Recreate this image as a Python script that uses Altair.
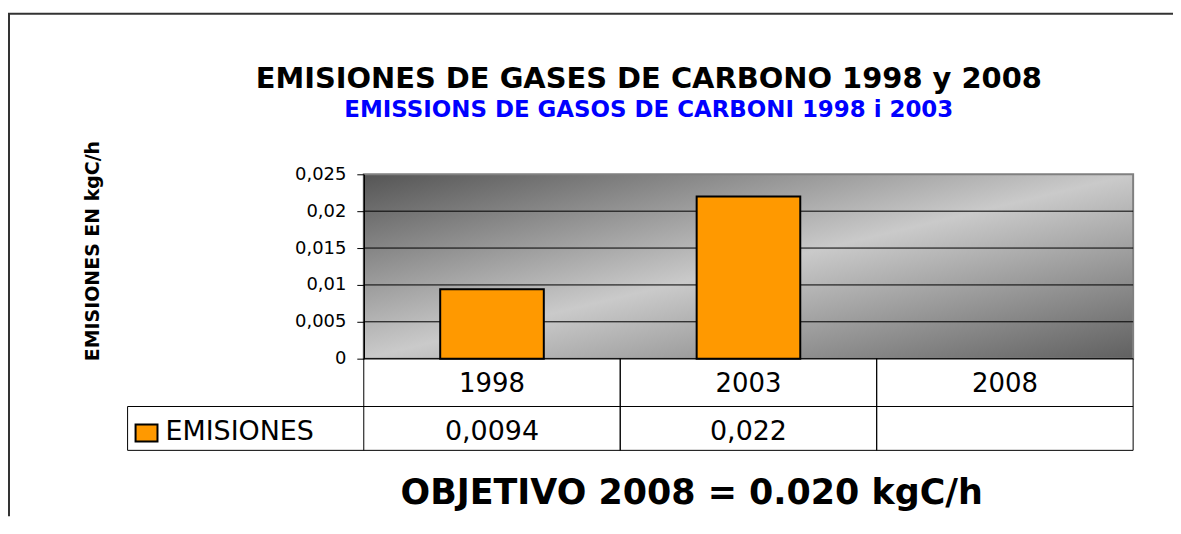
import altair as alt
import pandas as pd

# ---- data ----
years = ["1998", "2003", "2008"]
emisiones = [0.0094, 0.022, None]
y_ticks = [0, 0.005, 0.01, 0.015, 0.02, 0.025]
grid_values = [0.005, 0.01, 0.015, 0.02]
serie = "EMISIONES"
titulo = "EMISIONES DE GASES DE CARBONO 1998 y 2008"
subtitulo = "EMISSIONS DE GASOS DE CARBONI  1998 i 2003"
eje_y = "EMISIONES EN kgC/h"
objetivo = "OBJETIVO 2008 = 0.020 kgC/h"

W, H = 772, 185
FONT = "DejaVu Sans"
ORANGE = "#FF9900"

df = pd.DataFrame({"year": years, "emisiones": emisiones})
grid_df = pd.DataFrame({"emisiones": grid_values})
one = pd.DataFrame({"k": [0]})

x_scale = alt.Scale(domain=years, paddingInner=0, paddingOuter=0)
y_scale = alt.Scale(domain=[0, 0.025], nice=False, zero=True)

label_expr = "replace(format(datum.value, '~g'), '.', ',')"
y_axis = alt.Axis(
    values=y_ticks, labelExpr=label_expr, grid=False, tickSize=7,
    tickColor="black", domainColor="black", domainWidth=1.5,
    labelFont=FONT, labelFontSize=18, labelColor="black", labelPadding=11,
    title=None, zindex=1,
)
x_enc = alt.X("year:N", scale=x_scale, axis=None, sort=years)

gradient = alt.LinearGradient(
    gradient="linear", x1=0, y1=0, x2=1, y2=1,
    stops=[
        alt.GradientStop(color="#555555", offset=0),
        alt.GradientStop(color="#cacaca", offset=0.5),
        alt.GradientStop(color="#606060", offset=1),
    ],
)

bg = alt.Chart(one).mark_rect(fill=gradient, stroke="#808080", strokeWidth=2).encode(
    x=alt.value(0), x2=alt.value(W), y=alt.value(0), y2=alt.value(H)
)

grid = alt.Chart(grid_df).mark_rule(color="black", strokeWidth=1).encode(
    y=alt.Y("emisiones:Q", scale=y_scale, axis=y_axis),
    x=alt.value(0), x2=alt.value(W),
)

bars = alt.Chart(df).mark_bar(
    width=alt.RelativeBandSize(0.404), fill=ORANGE, stroke="black", strokeWidth=2
).encode(
    x=x_enc,
    y=alt.Y("emisiones:Q", scale=y_scale, axis=y_axis),
)

# ---- data table under the plot ----
def hline(y, x0, x1, color="black", w=1):
    return alt.Chart(one).mark_rule(color=color, strokeWidth=w).encode(
        x=alt.value(x0), x2=alt.value(x1), y=alt.value(y)
    )

def vline(x, y0, y1, color="black", w=1):
    return alt.Chart(one).mark_rule(color=color, strokeWidth=w).encode(
        x=alt.value(x), y=alt.value(y0), y2=alt.value(y1)
    )

col_left = alt.Chart(df).mark_rule(color="black", strokeWidth=1).encode(
    x=alt.X("year:N", scale=x_scale, axis=None, sort=years, bandPosition=0),
    y=alt.value(H), y2=alt.value(H + 92),
)
col_right = alt.Chart(df).mark_rule(color="black", strokeWidth=1).encode(
    x=alt.X("year:N", scale=x_scale, axis=None, sort=years, bandPosition=1),
    y=alt.value(H), y2=alt.value(H + 92),
)

year_text = alt.Chart(df).mark_text(
    font=FONT, fontSize=26, color="black", baseline="middle", align="center"
).encode(x=x_enc, y=alt.value(H + 25), text="year:N")

value_text = alt.Chart(df).transform_filter(
    "isValid(datum.emisiones)"
).transform_calculate(
    lbl="replace(format(datum.emisiones, '~g'), '.', ',')"
).mark_text(
    font=FONT, fontSize=27, color="black", baseline="middle", align="center"
).encode(x=x_enc, y=alt.value(H + 74), text="lbl:N")

swatch = alt.Chart(one).mark_rect(fill=ORANGE, stroke="black", strokeWidth=2).encode(
    x=alt.value(-229), x2=alt.value(-207), y=alt.value(H + 66), y2=alt.value(H + 83)
)
legend_text = alt.Chart(one).mark_text(
    font=FONT, fontSize=27, color="black", baseline="middle", align="left"
).encode(x=alt.value(-199), y=alt.value(H + 74), text=alt.value(serie))

# ---- titles ----
def label(txt, x, y, size, color="black", weight="bold", angle=0, baseline="alphabetic"):
    return alt.Chart(one).mark_text(
        font=FONT, fontSize=size, fontWeight=weight, color=color,
        align="center", baseline=baseline, angle=angle,
    ).encode(x=alt.value(x), y=alt.value(y), text=alt.value(txt))

t_main = label(titulo, 286, -87, 29)
t_sub = label(subtitulo, 286, -57, 23, color="#0000FF")
t_y = label(eje_y, -272, 77, 19, angle=270, baseline="middle")
t_obj = label(objetivo, 329, 331, 35)

# ---- outer frame ----
frame_top = hline(-161, -357, W + 40, color="#333333", w=2)
frame_left = vline(-356, -161, H + 158, color="#333333", w=2)

chart = alt.layer(
    bg, grid, bars,
    hline(H, 0, W), hline(H + 48, -237, W), hline(H + 92, -237, W),
    vline(-237, H + 48, H + 92), col_left, col_right,
    year_text, value_text, swatch, legend_text,
    t_main, t_sub, t_y, t_obj, frame_top, frame_left,
).properties(
    width=W, height=H,
    padding={"left": 357, "top": 166, "right": 40, "bottom": 158},
    autosize=alt.AutoSizeParams(type="none"),
    background="white",
).configure_view(stroke=None)

chart.save("out.html", embed_options={"renderer": "svg", "actions": False})
